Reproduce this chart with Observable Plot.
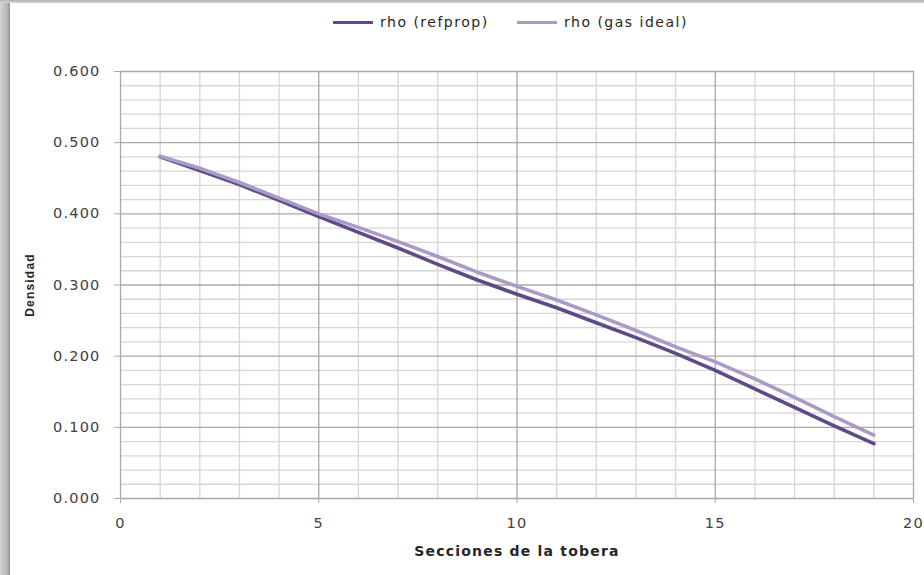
<!DOCTYPE html>
<html>
<head>
<meta charset="utf-8">
<script src="https://cdn.jsdelivr.net/npm/d3@7"></script>
<script src="https://cdn.jsdelivr.net/npm/@observablehq/plot@0.6"></script>
<style>
  html, body { margin: 0; padding: 0; background: #fff; }
  body { width: 924px; height: 575px; overflow: hidden; position: relative; }
  #shadowL { position: absolute; left: 0; top: 0; width: 10px; height: 575px;
    background: linear-gradient(to right, #d4d4d4, #b8b8b8 70%, #8f8f8f); }
  #shadowT { position: absolute; left: 0; top: 0; width: 924px; height: 3px;
    background: linear-gradient(to bottom, #b0b0b0, #d8d8d8); }
  #legend { position: absolute; left: 0; top: 0; width: 924px; height: 40px;
    font-family: "DejaVu Sans", sans-serif; font-size: 14px; letter-spacing: 1.5px; color: #262626; }
  .item { position: absolute; top: 14px; display: flex; align-items: center; }
  .sw { width: 40px; height: 3px; margin-right: 7px; }
  #chart { position: absolute; left: 0; top: 40px; }
  #chart svg text { letter-spacing: 1.2px; }
</style>
</head>
<body>
<div id="shadowL"></div>
<div id="shadowT"></div>
<div id="legend"></div>
<div id="chart"></div>
<script>
const secciones = [1, 2, 3, 4, 5, 6, 7, 8, 9, 10, 11, 12, 13, 14, 15, 16, 17, 18, 19];
const rhoRefprop = [0.480, 0.461, 0.441, 0.419, 0.396, 0.374, 0.352, 0.329, 0.307, 0.287, 0.268, 0.247, 0.226, 0.204, 0.180, 0.154, 0.128, 0.102, 0.077];
const rhoGasIdeal = [0.481, 0.464, 0.444, 0.422, 0.400, 0.381, 0.361, 0.340, 0.318, 0.298, 0.279, 0.258, 0.236, 0.213, 0.192, 0.168, 0.142, 0.115, 0.089];
const seriesNames = ["rho (refprop)", "rho (gas ideal)"];
const seriesColors = ["#5e4a88", "#a99bc6"];
const yTicks = [0, 0.1, 0.2, 0.3, 0.4, 0.5, 0.6];
const xTicks = [0, 5, 10, 15, 20];
const yLabel = "Densidad";
const xLabel = "Secciones de la tobera";

const rows = [];
secciones.forEach((s, i) => {
  rows.push({x: s, y: rhoRefprop[i], serie: seriesNames[0]});
  rows.push({x: s, y: rhoGasIdeal[i], serie: seriesNames[1]});
});

const minorY = d3.range(0, 31).map(i => i * 0.02).filter((v, i) => i % 5 !== 0);
const minorX = d3.range(1, 20).filter(v => v % 5 !== 0);

const gridLight = "#d6d6d6";
const gridMajor = "#a8a8a8";

const chart = Plot.plot({
  width: 924,
  height: 535,
  marginLeft: 120,
  marginRight: 11,
  marginTop: 31,
  marginBottom: 77,
  style: {fontFamily: "DejaVu Sans, sans-serif", fontSize: "14.5px", color: "#404040", background: "transparent"},
  x: {domain: [0, 20]},
  y: {domain: [0, 0.6]},
  color: {domain: seriesNames, range: seriesColors},
  marks: [
    Plot.ruleY(minorY, {stroke: gridLight, strokeWidth: 1.3}),
    Plot.ruleX(minorX, {stroke: gridLight, strokeWidth: 1.3}),
    Plot.ruleY(yTicks, {stroke: gridMajor, strokeWidth: 1.3}),
    Plot.ruleX(xTicks, {stroke: gridMajor, strokeWidth: 1.3}),
    Plot.axisY({ticks: yTicks, tickFormat: d3.format(".3f"), tickSize: 6, tickPadding: 14, stroke: gridMajor, fill: "#404040", label: null}),
    Plot.axisX({ticks: xTicks, tickFormat: d => String(d), tickSize: 5, tickPadding: 14, stroke: gridMajor, fill: "#404040", label: null}),
    Plot.line(rows, {x: "x", y: "y", z: "serie", stroke: "serie", strokeWidth: 3.6, strokeLinecap: "round", strokeLinejoin: "round"}),
    Plot.text([yLabel], {frameAnchor: "left", dx: -90, rotate: -90, textAnchor: "middle", fontWeight: "bold", fontSize: 12, fill: "#262626", fontFamily: "Liberation Sans Narrow, Arial Narrow, sans-serif"}),
    Plot.text([xLabel], {frameAnchor: "bottom", dy: 57, textAnchor: "middle", fontWeight: "bold", fontSize: 14, fill: "#262626"})
  ]
});
document.getElementById("chart").appendChild(chart);

const legend = document.getElementById("legend");
const lefts = [333, 517];
seriesNames.forEach((n, i) => {
  const it = document.createElement("div");
  it.className = "item";
  it.style.left = lefts[i] + "px";
  const sw = document.createElement("div");
  sw.className = "sw";
  sw.style.background = seriesColors[i];
  const t = document.createElement("span");
  t.textContent = n;
  it.appendChild(sw);
  it.appendChild(t);
  legend.appendChild(it);
});
</script>
</body>
</html>
